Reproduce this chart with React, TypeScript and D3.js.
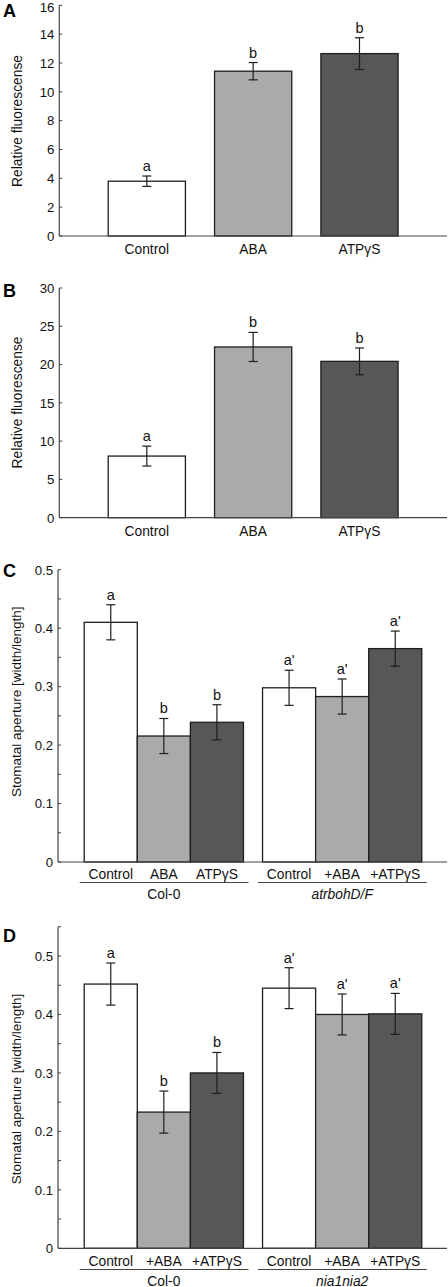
import React from "react";
import * as d3 from "d3";

// ---------- data ----------
const simpleCategories = ["Control", "ABA", "ATPγS"];
const aValues = [3.8, 11.43, 12.65];
const aErrors = [0.36, 0.6, 1.1];
const aLetters = ["a", "b", "b"];
const aTicks = [0, 2, 4, 6, 8, 10, 12, 14, 16];

const bValues = [8.05, 22.3, 20.42];
const bErrors = [1.3, 1.9, 1.75];
const bLetters = ["a", "b", "b"];
const bTicks = [0, 5, 10, 15, 20, 25, 30];

const cGroups = ["Col-0", "atrbohD/F"];
const cCategories = ["Control", "ABA", "ATPγS", "Control", "+ABA", "+ATPγS"];
const cValues = [0.41, 0.2155, 0.239, 0.298, 0.283, 0.365];
const cErrors = [0.03, 0.03, 0.03, 0.03, 0.03, 0.03];
const cLetters = ["a", "b", "b", "a'", "a'", "a'"];

const dGroups = ["Col-0", "nia1nia2"];
const dCategories = ["Control", "+ABA", "+ATPγS", "Control", "+ABA", "+ATPγS"];
const dValues = [0.452, 0.233, 0.3, 0.445, 0.4, 0.401];
const dErrors = [0.036, 0.036, 0.035, 0.035, 0.035, 0.035];
const dLetters = ["a", "b", "b", "a'", "a'", "a'"];

const apertureTicks = [0, 0.1, 0.2, 0.3, 0.4, 0.5];
const apertureMinorC = [0.05, 0.15, 0.25, 0.35, 0.45];
const apertureMinorD = [0.05, 0.15, 0.25, 0.35, 0.45, 0.55];

const fills = ["#ffffff", "#aaaaaa", "#575757"];

const FONT = "'Liberation Sans', Arial, Helvetica, sans-serif";
const AXIS = "#444";
const STROKE = "#1e1e1e";

type YAxisProps = {
  y: d3.ScaleLinear<number, number>;
  x0: number;
  ticks: number[];
  minor?: number[];
  top: number;
  fmt: (v: number) => string;
};

function YAxis({ y, x0, ticks, minor = [], top, fmt }: YAxisProps) {
  return (
    <g>
      <line x1={x0} x2={x0} y1={y(0)} y2={y(top)} stroke={AXIS} strokeWidth={1.2} />
      {ticks.map((t) => (
        <g key={"t" + t}>
          <line x1={x0} x2={x0 + 3} y1={y(t)} y2={y(t)} stroke={AXIS} strokeWidth={1} />
          <text
            x={x0 - 5}
            y={Math.max(y(t) + 4.8, 12)}
            textAnchor="end"
            fontSize={13.2}
            fill="#111"
          >
            {fmt(t)}
          </text>
        </g>
      ))}
      {minor.map((t) => (
        <line key={"m" + t} x1={x0} x2={x0 + 3} y1={y(t)} y2={y(t)} stroke={AXIS} strokeWidth={1} />
      ))}
    </g>
  );
}

function ErrorBar({ cx, yTop, yBot }: { cx: number; yTop: number; yBot: number }) {
  const w = 4.5;
  return (
    <g stroke={STROKE} strokeWidth={1.2}>
      <line x1={cx} x2={cx} y1={yTop} y2={yBot} />
      <line x1={cx - w} x2={cx + w} y1={yTop} y2={yTop} />
      <line x1={cx - w} x2={cx + w} y1={yBot} y2={yBot} />
    </g>
  );
}

type SimpleProps = {
  label: string;
  values: number[];
  errors: number[];
  letters: string[];
  ticks: number[];
  yMax: number;
  yBottom: number;
  yTopPx: number;
  labelY: number;
  ylabelY: number;
  xLabelY: number;
};

function SimplePanel(p: SimpleProps) {
  const x0 = 59.3;
  const x = d3
    .scaleBand<string>()
    .domain(simpleCategories)
    .range([x0, 447])
    .paddingInner(0.274)
    .paddingOuter(0.46);
  const y = d3.scaleLinear().domain([0, p.yMax]).range([p.yBottom, p.yTopPx]);
  return (
    <g>
      <text x={3} y={p.labelY} fontSize={18} fontWeight="bold" fill="#000">
        {p.label}
      </text>
      <text
        transform={`translate(21.5,${p.ylabelY}) rotate(-90)`}
        textAnchor="middle"
        fontSize={13.8}
        fill="#111"
      >
        Relative fluorescense
      </text>
      {simpleCategories.map((c, i) => {
        const bx = x(c) as number;
        const bw = x.bandwidth();
        const cx = bx + bw / 2;
        return (
          <g key={c}>
            <rect
              x={bx}
              y={y(p.values[i])}
              width={bw}
              height={y(0) - y(p.values[i])}
              fill={fills[i]}
              stroke={STROKE}
              strokeWidth={1.3}
            />
            <ErrorBar cx={cx} yTop={y(p.values[i] + p.errors[i])} yBot={y(p.values[i] - p.errors[i])} />
            <text x={cx} y={y(p.values[i] + p.errors[i]) - 5} textAnchor="middle" fontSize={14.5} fill="#111">
              {p.letters[i]}
            </text>
            <text x={cx} y={p.xLabelY} textAnchor="middle" fontSize={13.8} fill="#111">
              {c}
            </text>
          </g>
        );
      })}
      <line x1={x0} x2={447} y1={y(0)} y2={y(0)} stroke={AXIS} strokeWidth={1.2} />
      <YAxis y={y} x0={x0} ticks={p.ticks} top={p.yMax} fmt={(v) => String(v)} />
    </g>
  );
}

type GroupProps = {
  label: string;
  groups: string[];
  categories: string[];
  values: number[];
  errors: number[];
  letters: string[];
  yMax: number;
  yBottom: number;
  yHalf: number; // pixel for 0.5
  minor: number[];
  labelY: number;
  ylabelY: number;
  xLabelY: number;
  lineY: number;
  groupLabelY: number;
};

function GroupPanel(p: GroupProps) {
  const x0 = 58;
  const gx = d3
    .scaleBand<string>()
    .domain(p.groups)
    .range([x0, 448])
    .paddingInner(0.107)
    .paddingOuter(0.147);
  const inner = d3.scaleBand<number>().domain([0, 1, 2]).range([0, gx.bandwidth()]).padding(0);
  const y = d3.scaleLinear().domain([0, 0.5]).range([p.yBottom, p.yHalf]);
  return (
    <g>
      <text x={3} y={p.labelY} fontSize={18} fontWeight="bold" fill="#000">
        {p.label}
      </text>
      <text
        transform={`translate(20.5,${p.ylabelY}) rotate(-90)`}
        textAnchor="middle"
        fontSize={13.5}
        fill="#111"
      >
        Stomatal aperture [width/length]
      </text>
      {p.categories.map((c, k) => {
        const gi = Math.floor(k / 3);
        const ti = k % 3;
        const bx = (gx(p.groups[gi]) as number) + (inner(ti) as number);
        const bw = inner.bandwidth();
        const cx = bx + bw / 2;
        return (
          <g key={k}>
            <rect
              x={bx}
              y={y(p.values[k])}
              width={bw}
              height={y(0) - y(p.values[k])}
              fill={fills[ti]}
              stroke={STROKE}
              strokeWidth={1.3}
            />
            <ErrorBar cx={cx} yTop={y(p.values[k] + p.errors[k])} yBot={y(p.values[k] - p.errors[k])} />
            <text x={cx} y={y(p.values[k] + p.errors[k]) - 5} textAnchor="middle" fontSize={14.5} fill="#111">
              {p.letters[k]}
            </text>
            <text x={cx} y={p.xLabelY} textAnchor="middle" fontSize={13.8} fill="#111">
              {c}
            </text>
          </g>
        );
      })}
      {p.groups.map((g, gi) => {
        const gx0 = gx(g) as number;
        const gw = gx.bandwidth();
        return (
          <g key={g}>
            <line x1={gx0 - 4.5} x2={gx0 + gw + 5} y1={p.lineY} y2={p.lineY} stroke={AXIS} strokeWidth={1.2} />
            <text
              x={gx0 + gw / 2}
              y={p.groupLabelY}
              textAnchor="middle"
              fontSize={13.8}
              fontStyle={gi === 1 ? "italic" : "normal"}
              fill="#111"
            >
              {g}
            </text>
          </g>
        );
      })}
      <line x1={x0} x2={447} y1={y(0)} y2={y(0)} stroke={AXIS} strokeWidth={1.2} />
      <YAxis
        y={y}
        x0={x0}
        ticks={apertureTicks}
        minor={p.minor}
        top={p.yMax}
        fmt={(v) => (v === 0 ? "0" : d3.format(".1f")(v))}
      />
    </g>
  );
}

export default function App() {
  return (
    <svg
      width={448}
      height={1287}
      style={{ position: "absolute", left: 0, top: 0, background: "#fff" }}
      fontFamily={FONT}
    >
      <rect x={0} y={0} width={448} height={1287} fill="#fff" />
      <SimplePanel
        label="A"
        values={aValues}
        errors={aErrors}
        letters={aLetters}
        ticks={aTicks}
        yMax={16}
        yBottom={236}
        yTopPx={5.3}
        labelY={17}
        ylabelY={121}
        xLabelY={254}
      />
      <SimplePanel
        label="B"
        values={bValues}
        errors={bErrors}
        letters={bLetters}
        ticks={bTicks}
        yMax={30}
        yBottom={517.7}
        yTopPx={288}
        labelY={297}
        ylabelY={402.5}
        xLabelY={536}
      />
      <GroupPanel
        label="C"
        groups={cGroups}
        categories={cCategories}
        values={cValues}
        errors={cErrors}
        letters={cLetters}
        yMax={0.5}
        yBottom={862}
        yHalf={569.7}
        minor={apertureMinorC}
        labelY={577}
        ylabelY={701.7}
        xLabelY={879}
        lineY={882.5}
        groupLabelY={899}
      />
      <GroupPanel
        label="D"
        groups={dGroups}
        categories={dCategories}
        values={dValues}
        errors={dErrors}
        letters={dLetters}
        yMax={0.55}
        yBottom={1248.3}
        yHalf={956}
        minor={apertureMinorD}
        labelY={942}
        ylabelY={1089}
        xLabelY={1265.5}
        lineY={1269.5}
        groupLabelY={1285.5}
      />
    </svg>
  );
}
